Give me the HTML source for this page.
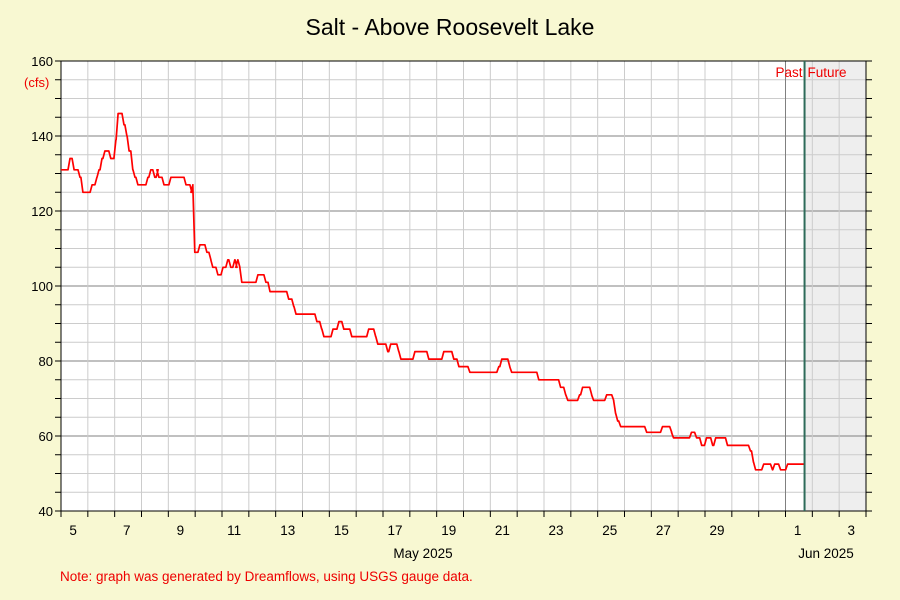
<!DOCTYPE html>
<html><head><meta charset="utf-8"><style>
body{margin:0;background:#f8f8d2;}
svg{display:block;font-family:"Liberation Sans","DejaVu Sans",sans-serif;}
</style></head><body>
<svg id="chart" width="900" height="600">
<rect width="900" height="600" fill="#f8f8d2"/>
<text x="450" y="35" font-size="23" text-anchor="middle" fill="#000">Salt - Above Roosevelt Lake</text>
<g id="plot"></g>
<text x="24" y="87" font-size="13" fill="#e00">(cfs)</text>
<text x="60" y="581" font-size="13.5" fill="#e00">Note: graph was generated by Dreamflows, using USGS gauge data.</text>
</svg>
<script>
const days=[5.00,5.30,5.45,5.67,5.78,6.12,6.30,6.38,6.49,6.60,6.82,7.01,7.09,7.31,7.42,7.50,7.64,7.72,7.83,8.20,8.31,8.46,8.58,8.61,8.80,9.06,9.62,9.84,9.88,9.95,10.14,10.40,10.55,10.62,10.81,11.00,11.18,11.29,11.44,11.52,11.55,11.63,11.70,12.30,12.60,12.75,13.45,13.64,13.72,14.50,14.68,14.76,15.10,15.32,15.50,15.80,16.43,16.69,16.77,17.14,17.25,17.55,17.63,18.15,18.67,19.23,19.60,19.79,20.20,21.28,21.39,21.69,21.76,22.77,23.58,23.77,23.85,24.29,24.40,24.74,24.81,25.30,25.56,25.63,25.71,25.82,26.79,27.38,27.72,27.79,28.46,28.65,28.84,29.02,29.25,29.36,29.80,30.66,30.77,30.85,31.15,31.48,31.56,31.78,32.04];
const flows=[131,134,131,129,125,127,129,131,134,136,134,139,146,143,140,136,131,129,127,129,131,129,131,129,127,129,127,125,127,109,111,109,107,105,103,105,107,105,107,105,107,105,101,103,101,98.5,96.5,94.5,92.5,90.5,88.5,86.5,88.5,90.5,88.5,86.5,88.5,86.5,84.5,82.5,84.5,82.5,80.5,82.5,80.5,82.5,80.5,78.5,77,78.5,80.5,78.5,77,75,73,71,69.5,71,73,71,69.5,71,69.5,66,64,62.5,61,62.5,61,59.5,61,59.5,57.5,59.5,57.5,59.5,57.5,56,53,51,52.5,51,52.5,51,52.5];
const endDay=32.71;
const yTicks=[40,60,80,100,120,140,160];
const xLabels=["5","7","9","11","13","15","17","19","21","23","25","27","29","1","3"];
const xLabelDays=[5,7,9,11,13,15,17,19,21,23,25,27,29,32,34];

const X0=61,X1=866,Y0=61,Y1=511,D0=5,D1=35,V0=40,V1=160;
const sx=d=>X0+(d-D0)*(X1-X0)/(D1-D0);
const sy=v=>Y1-(v-V0)*(Y1-Y0)/(V1-V0);
const NS="http://www.w3.org/2000/svg";
const g=document.getElementById('plot');
function mk(t,a){const e=document.createElementNS(NS,t);for(const k in a)e.setAttribute(k,a[k]);g.appendChild(e);return e;}

let e=mk('rect',{x:X0,y:Y0,width:X1-X0,height:Y1-Y0,fill:'#fff'});


e=mk('rect',{x:sx(endDay),y:Y0,width:X1-sx(endDay),height:Y1-Y0,fill:'#eeeeee'});


for(let v=V0;v<=V1;v+=5){
  const major=v%20===0;
  e=mk('line',{x1:X0,x2:X1,y1:sy(v),y2:sy(v),stroke:major?'#808080':'#cccccc','stroke-width':1});
  
  
  e=mk('line',{x1:X0-6,x2:X0,y1:sy(v),y2:sy(v),stroke:'#000'});
  
  
  e=mk('line',{x1:X1,x2:X1+6,y1:sy(v),y2:sy(v),stroke:'#000'});
  
  
}
for(let d=D0+1;d<D1;d++){
  e=mk('line',{x1:sx(d),x2:sx(d),y1:Y0,y2:Y1,stroke:d===32?'#808080':'#cccccc'});
  
  
}
for(let d=D0;d<=D1;d++){
  e=mk('line',{x1:sx(d),x2:sx(d),y1:Y1,y2:Y1+6,stroke:'#000'});
  
  
}
e=mk('rect',{x:X0,y:Y0,width:X1-X0,height:Y1-Y0,fill:'none',stroke:'#000'});


yTicks.forEach(v=>{
  e=mk('text',{x:53,y:sy(v)+5,'font-size':13,'text-anchor':'end',fill:'#000'});
  e.textContent=v;
  
  
});
xLabels.forEach((l,i)=>{
  e=mk('text',{x:sx(xLabelDays[i]+0.45),y:535,'font-size':13.5,'text-anchor':'middle',fill:'#000'});
  e.textContent=l;
  
  
});
e=mk('text',{x:423,y:558,'font-size':13.5,'text-anchor':'middle',fill:'#000'});
e.textContent='May 2025';


e=mk('text',{x:826,y:558,'font-size':13.5,'text-anchor':'middle',fill:'#000'});
e.textContent='Jun 2025';


let pts=[];
for(let i=0;i<days.length;i++){
  const next=i+1<days.length?days[i+1]:endDay;
  if(i>0)pts.push([sx(days[i])+1,sy(flows[i])]);else pts.push([sx(days[i]),sy(flows[i])]);
  pts.push([sx(next)-(i+1<days.length?1:0),sy(flows[i])]);
}
e=mk('polyline',{points:pts.map(p=>p[0].toFixed(1)+','+p[1].toFixed(1)).join(' '),fill:'none',stroke:'#ff0000','stroke-width':1.7,'stroke-linejoin':'round'});


e=mk('line',{x1:sx(endDay),x2:sx(endDay),y1:Y0,y2:Y1,stroke:'#2e6b5a','stroke-width':2});


e=mk('text',{x:sx(endDay)-2,y:77,'font-size':13.5,'text-anchor':'end',fill:'#e00'});
e.textContent='Past';


e=mk('text',{x:sx(endDay)+3,y:77,'font-size':13.5,fill:'#e00'});
e.textContent='Future';


</script>
</body></html>
